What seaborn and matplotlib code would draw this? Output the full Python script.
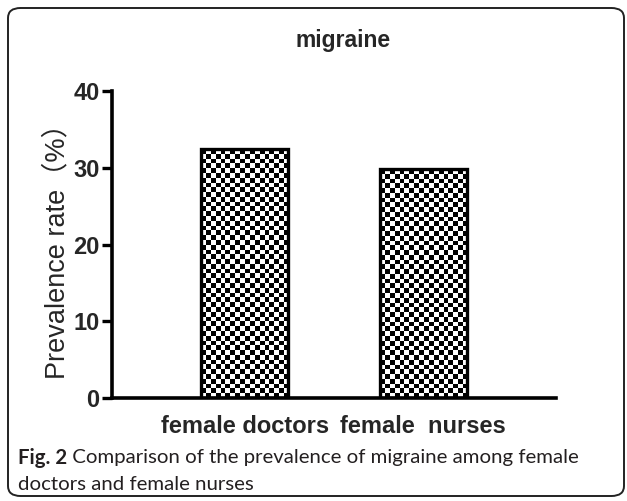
import numpy as np
import pandas as pd
import matplotlib
matplotlib.use("Agg")
import matplotlib.pyplot as plt
import seaborn as sns
from matplotlib.patches import FancyBboxPatch

categories = ["female doctors", "female  nurses"]
prevalence = [32.4, 29.8]
yticks = [0, 10, 20, 30, 40]
title = "migraine"
ylabel = "Prevalence rate\uff08%\uff09"
caption_bold = "Fig. 2"
caption_rest = " Comparison of the prevalence of migraine among female"
caption_line2 = "doctors and female nurses"

sns.set_theme(style="white")
plt.rcParams["font.family"] = ["Liberation Sans", "Noto Sans CJK SC", "DejaVu Sans"]

df = pd.DataFrame({"group": categories, "rate": prevalence})

fig = plt.figure(figsize=(6.27, 5.01), dpi=100)
ax = fig.add_axes([112/627, 1-398/501, (556-112)/627, (398-91)/501])
sns.barplot(data=df, x="group", y="rate", ax=ax, color="white",
            edgecolor="black", linewidth=2.4, width=0.49, saturation=1)

ax.set_ylim(0, 40)
ax.set_xlim(-0.744, 1.744)
ax.set_yticks(yticks)
ax.set_yticklabels([str(t) for t in yticks], fontsize=17, fontweight="bold")
ax.set_xticks(range(len(categories)))
ax.set_xticklabels(categories, fontsize=17, fontweight="bold")
ax.set_xlabel("")
ax.set_ylabel(ylabel, fontsize=19.5, labelpad=2)
ax.set_title(title, fontsize=16.5, fontweight="bold", pad=32, x=0.52)
for s in ["top", "right"]:
    ax.spines[s].set_visible(False)
for s in ["left", "bottom"]:
    ax.spines[s].set_linewidth(2.6)
    ax.spines[s].set_color("black")
ax.tick_params(axis="y", length=7, width=2.4, color="black", pad=2, left=True)
ax.tick_params(axis="x", length=0, pad=12)

# checkerboard texture clipped to each bar
fig.canvas.draw()
sq = 4.8  # pixels per square
for p in ax.patches:
    x0, y0 = p.get_x(), p.get_y()
    w, h = p.get_width(), p.get_height()
    (px0, py0) = ax.transData.transform((x0, y0))
    (px1, py1) = ax.transData.transform((x0 + w, y0 + h))
    ncol = max(1, int(round((px1 - px0) / sq)))
    nrow = max(1, int(round((py1 - py0) / sq)))
    cb = (np.add.outer(np.arange(nrow), np.arange(ncol)) % 2).astype(float)
    im = ax.imshow(cb, cmap="gray", vmin=0, vmax=1, interpolation="nearest",
                   extent=(x0, x0 + w, y0, y0 + h), aspect="auto", zorder=1.5)
    im.set_clip_path(p)
    p.set_zorder(2)
    p.set_facecolor("none")
ax.set_xlim(-0.744, 1.744)
ax.set_ylim(0, 40)

# caption
cap_font = ["Lato", "DejaVu Sans"]
t1 = fig.text(18/627, 1-458/501, caption_bold, fontsize=14.7, fontweight="bold",
              color="#231f20", family=cap_font, va="center")
fig.canvas.draw()
bb = t1.get_window_extent()
fig.text(bb.x1/627, 1-458/501, caption_rest, fontsize=14.7, color="#231f20",
         family=cap_font, va="center")
fig.text(18/627, 1-484/501, caption_line2, fontsize=14.7, color="#231f20",
         family=cap_font, va="center")

border = FancyBboxPatch((8/627, 5/501), (624-8)/627, (493-5)/501,
                        boxstyle="round,pad=0,rounding_size=0.02",
                        transform=fig.transFigure, fill=False,
                        edgecolor="#222222", linewidth=1.4)
fig.patches.append(border)

fig.savefig("out.png", dpi=100)
